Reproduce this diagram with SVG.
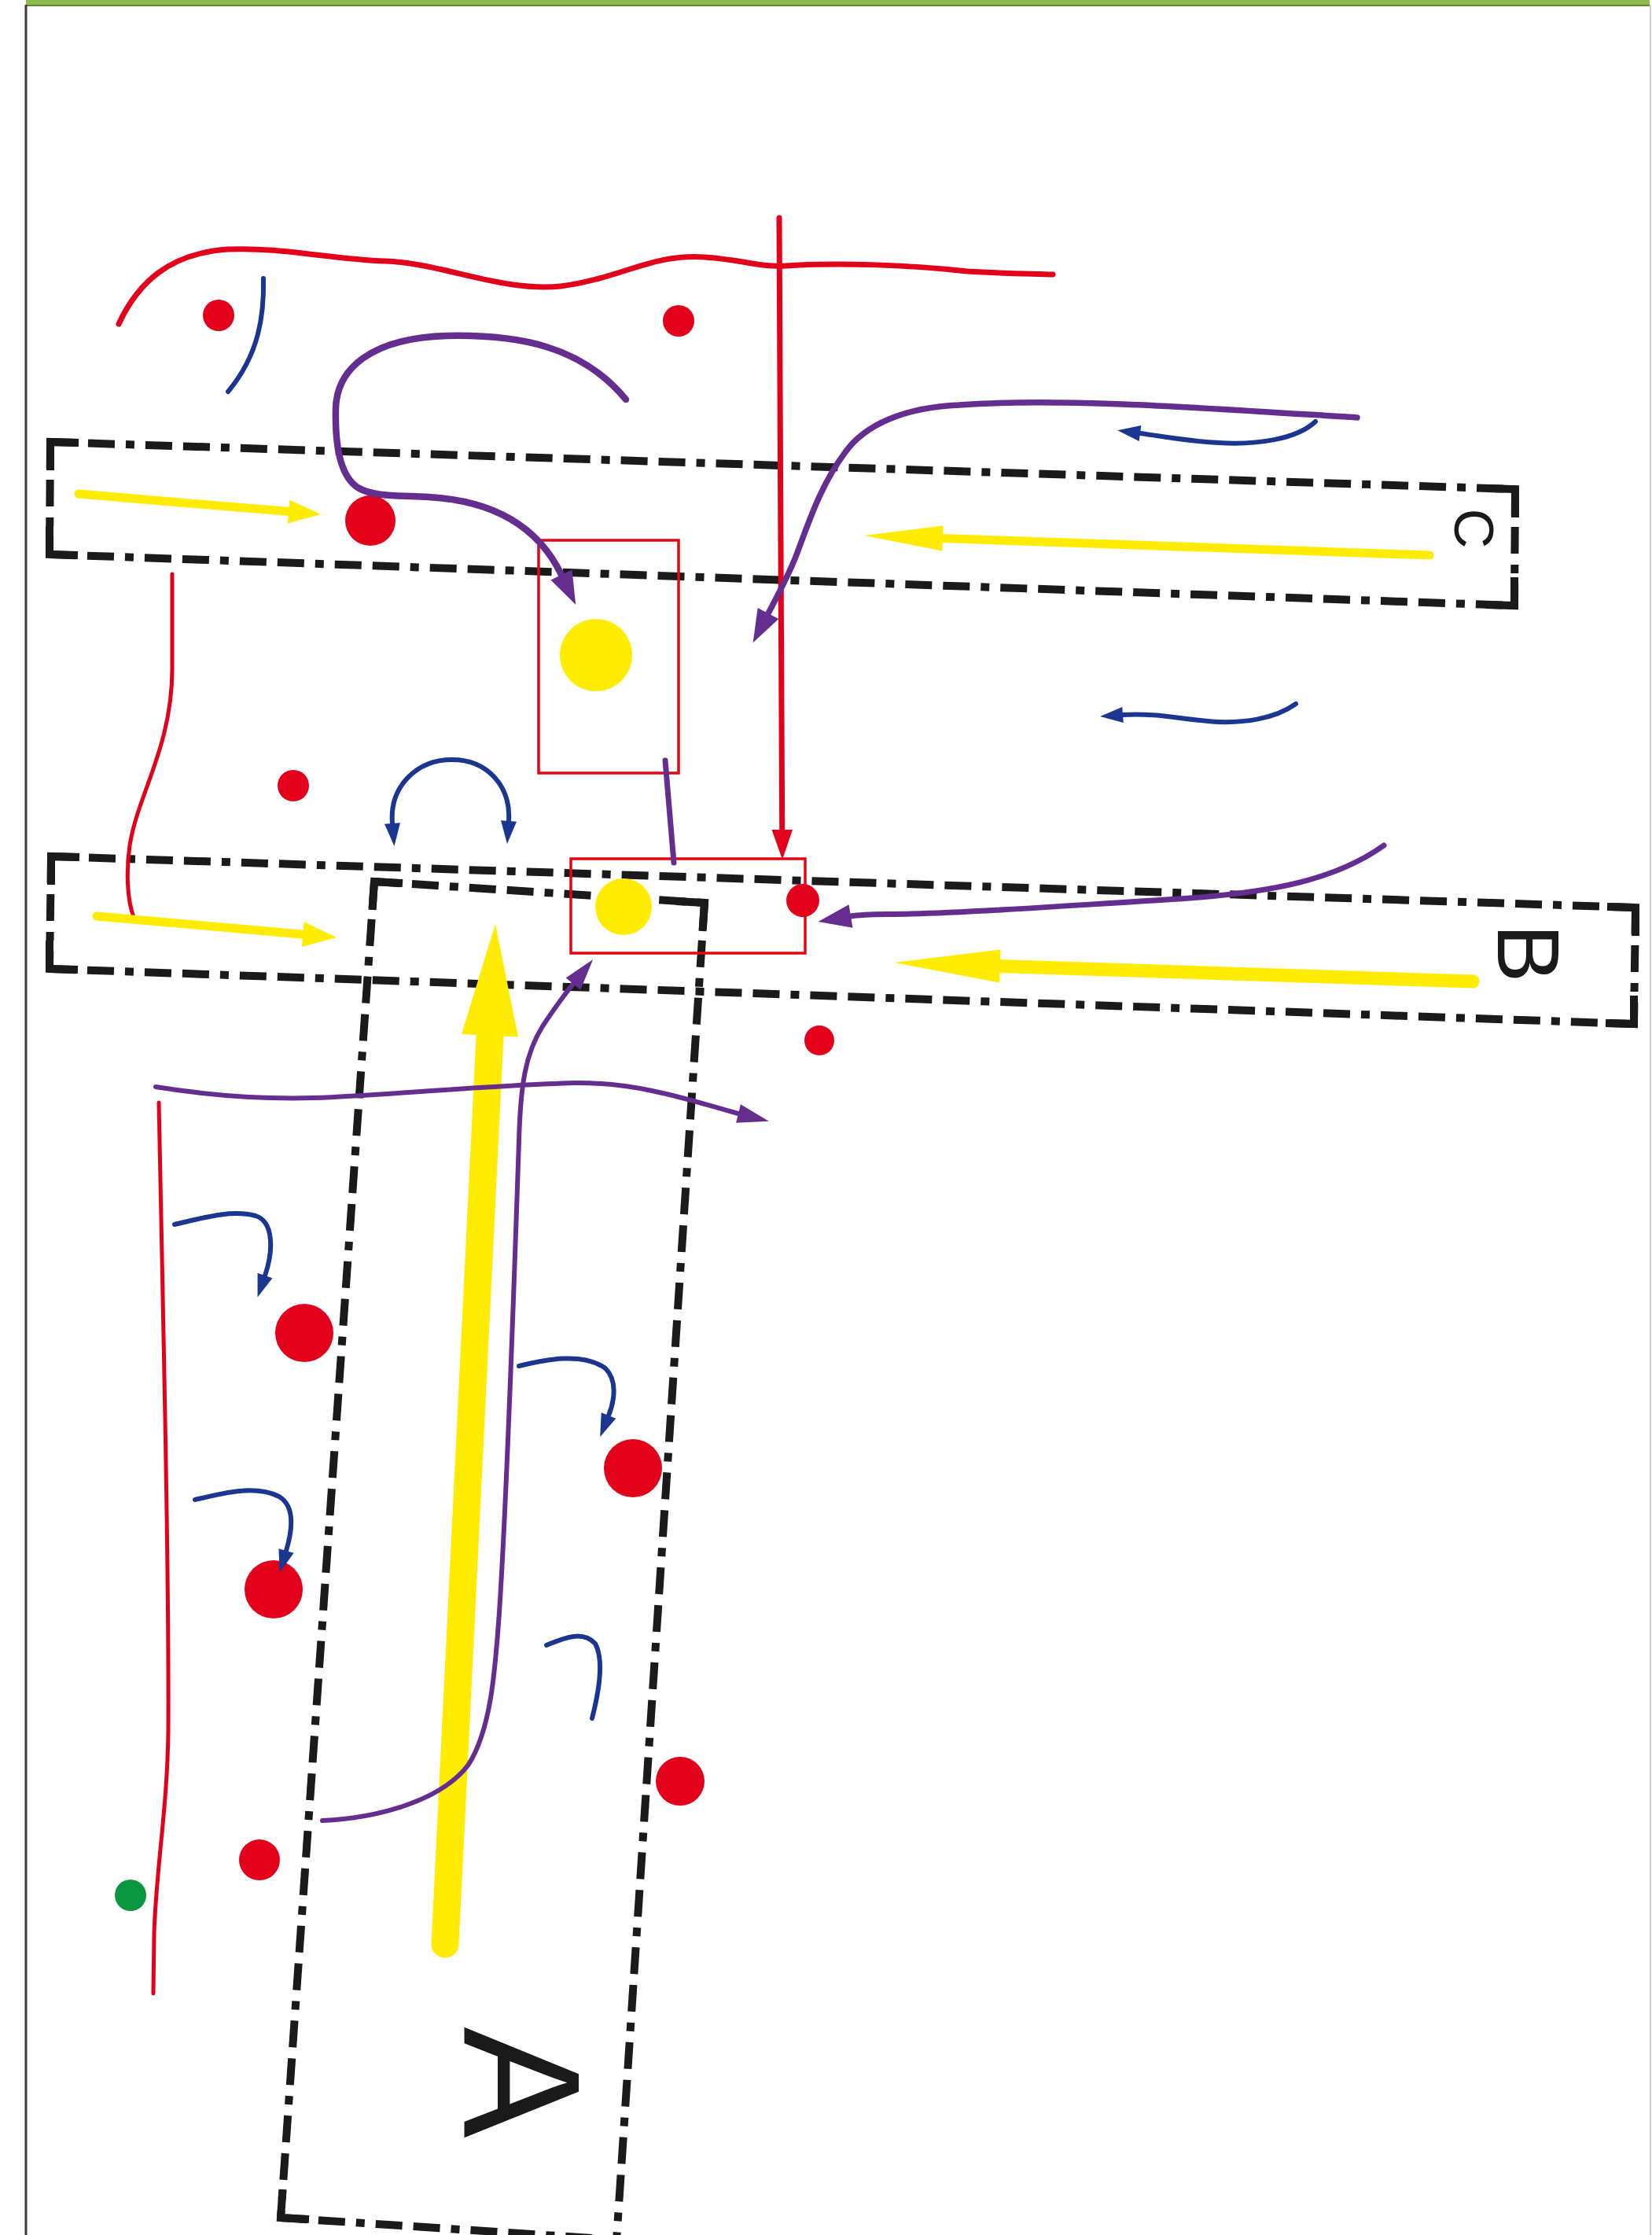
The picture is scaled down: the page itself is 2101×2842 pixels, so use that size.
<svg xmlns="http://www.w3.org/2000/svg" width="2101" height="2842" viewBox="0 0 2101 2842">
<style>
.bx{fill:none;stroke:#1a1a1a;stroke-width:10;stroke-dasharray:34 14 34 14 11 14}
.cn{fill:none;stroke:#1a1a1a;stroke-width:10;stroke-linejoin:miter}
.rr{fill:none;stroke:#e30613;stroke-width:3.5}
.lbl{font-family:"Liberation Sans",Arial,sans-serif;fill:#1a1a1a;text-anchor:middle}
.red{fill:#e2001a}
.yel{fill:#ffec00}
.pl{fill:none;stroke:#662d91;stroke-linecap:round}
.bl{fill:none;stroke:#1b3690;stroke-width:6;stroke-linecap:round}
.rl{fill:none;stroke:#e2001a;stroke-linecap:round}
.yl{fill:none;stroke:#ffec00;stroke-linecap:round}
</style>
<defs>
<marker id="mPB" markerUnits="userSpaceOnUse" markerWidth="60" markerHeight="40" refX="0" refY="0" orient="auto" overflow="visible"><path d="M0,-15 L42,0 L0,15 z" fill="#662d91"/></marker>
<marker id="mPS" markerUnits="userSpaceOnUse" markerWidth="60" markerHeight="40" refX="0" refY="0" orient="auto" overflow="visible"><path d="M0,-12 L40,0 L0,12 z" fill="#662d91"/></marker>
<marker id="mB" markerUnits="userSpaceOnUse" markerWidth="40" markerHeight="30" refX="0" refY="0" orient="auto" overflow="visible"><path d="M0,-10 L29,0 L0,10 z" fill="#1b3690"/></marker>
<marker id="mBs" markerUnits="userSpaceOnUse" markerWidth="40" markerHeight="30" refX="0" refY="0" orient="auto-start-reverse" overflow="visible"><path d="M0,-10 L29,0 L0,10 z" fill="#1b3690"/></marker>
</defs>
<rect width="2101" height="2842" fill="#ffffff"/>
<g id="frame">
<rect x="33" y="0" width="2065" height="7" fill="#8dbb4c"/>
<rect x="33" y="6" width="2065" height="2" fill="#5e8c2b"/>
<line x1="33" y1="6" x2="33" y2="2842" stroke="#3a3a3a" stroke-width="3"/>
<line x1="2099" y1="6" x2="2099" y2="2842" stroke="#d0d0d0" stroke-width="2"/>
</g>
<g id="box-C">
<path class="bx" d="M64,562 L1927,622 M1927,622 L1926,770 M63,705 L1926,770 M64,562 L63,705"/>
<path class="cn" d="M100,563 L64,562 L64,598 M1891,621 L1927,622 L1927,658 M1926,734 L1926,770 L1890,769 M63,669 L63,705 L99,706"/>
<text class="lbl" font-size="70" transform="translate(1875,672) rotate(90)" x="0" y="25">C</text>
</g>
<g id="box-B">
<path class="bx" d="M65,1089 L2080,1154 M2080,1154 L2078,1302 M63,1232 L2078,1302 M65,1089 L63,1232"/>
<path class="cn" d="M101,1090 L65,1089 L65,1125 M2044,1153 L2080,1154 L2080,1190 M2078,1266 L2078,1302 L2042,1301 M63,1196 L63,1232 L99,1233"/>
<text class="lbl" font-size="112" transform="translate(1945,1212) rotate(90)" x="0" y="40">B</text>
</g>
<g id="box-A">
<path class="bx" d="M476,1121 L896,1148 M896,1148 L784,2850 M357,2820 L784,2848 M476,1121 L357,2820"/>
<path class="cn" d="M512,1123 L476,1121 L473.5,1157 M860,1146 L896,1148 L893.5,1184 M359.5,2784 L357,2820 L393,2822"/>
<text class="lbl" font-size="212" transform="translate(666,2648) rotate(90)" x="0" y="76">A</text>
</g>
<g id="zone-upper">
<rect class="rr" x="685" y="687" width="178" height="296"/>
<circle class="yel" cx="758" cy="833" r="46"/>
</g>
<g id="zone-lower">
<rect class="rr" x="726" y="1092" width="298" height="120"/>
<circle class="yel" cx="793" cy="1153" r="36"/>
</g>
<g id="players">
<circle id="p1" class="red" cx="278" cy="401" r="20"/>
<circle id="p2" class="red" cx="863" cy="408" r="20"/>
<circle id="p3" class="red" cx="471" cy="662" r="32"/>
<circle id="p4" class="red" cx="373" cy="999" r="20"/>
<circle id="p5" class="red" cx="1021" cy="1145" r="21"/>
<circle id="p6" class="red" cx="1042" cy="1323" r="19"/>
<circle id="p7" class="red" cx="387" cy="1695" r="37"/>
<circle id="p8" class="red" cx="805" cy="1867" r="37"/>
<circle id="p9" class="red" cx="348" cy="2021" r="37"/>
<circle id="p10" class="red" cx="865" cy="2265" r="31"/>
<circle id="p11" class="red" cx="330" cy="2365" r="26"/>
<circle id="p12" cx="166" cy="2410" r="20" fill="#0b9640"/>
</g>
<g id="connectors">
<path class="rl" stroke-width="7" d="M151,412 C175,360 215,322 290,317 C360,314 420,330 490,332 C560,334 640,372 713,364 C790,354 830,322 896,327 C950,331 965,340 1000,338 C1060,334 1150,336 1230,345 C1280,348 1320,348 1339,349"/>
<line class="rl" stroke-width="7" x1="991" y1="277" x2="994.7" y2="1056"/>
<polygon class="red" points="981.5,1055 1008,1055 995,1093"/>
<path class="rl" stroke-width="5" d="M219,730 L219,850 C219,950 175,1010 165,1075 C160,1110 162,1145 170,1166"/>
<path class="rl" stroke-width="5" d="M202,1402 C208,1700 215,2000 214,2200 C213,2300 198,2380 196,2460 L195,2535"/>
<line class="yl" stroke-width="11" x1="100" y1="628" x2="368" y2="650.6"/>
<polygon class="yel" points="365.8,665.5 368.4,635.7 408,654"/>
<line class="yl" stroke-width="11" x1="1818" y1="706" x2="1198" y2="684.5"/>
<polygon class="yel" points="1199.5,668.5 1198.3,700.5 1099,681"/>
<line class="yl" stroke-width="11" x1="123" y1="1165" x2="386" y2="1188.2"/>
<polygon class="yel" points="383.8,1204.1 386.6,1172.3 428,1192"/>
<line class="yl" stroke-width="17" x1="1873" y1="1248" x2="1271" y2="1228.4"/>
<polygon class="yel" points="1272.6,1207.4 1271.2,1249.4 1137,1224"/>
<line class="yl" stroke-width="35" x1="566" y1="2472" x2="623" y2="1318"/>
<polygon class="yel" points="659,1318.6 587,1315 630,1175"/>
<path class="pl" stroke-width="8.5" marker-end="url(#mPB)" d="M796,508 C740,440 660,425 568,427 C470,430 428,470 427,520 C426,565 432,605 455,620 C475,632 505,630 545,632 C615,636 680,660 714,731"/>
<path class="pl" stroke-width="7.5" marker-end="url(#mPB)" d="M1726,531 C1550,520 1350,505 1220,515 C1150,518 1100,540 1075,575 C1045,615 1030,660 1015,700 C1005,728 990,755 977,780"/>
<path class="pl" stroke-width="7" d="M846,967 L857,1097"/>
<path class="pl" stroke-width="7" marker-end="url(#mPB)" d="M1760,1075 C1700,1118 1620,1135 1500,1143 C1380,1150 1250,1160 1160,1162 C1120,1163 1100,1162 1082,1165"/>
<path class="pl" stroke-width="6" marker-end="url(#mPS)" d="M410,2315 C480,2312 560,2290 595,2245 C625,2200 630,2120 635,2050 C645,1900 655,1600 660,1450 C662,1380 668,1340 690,1305 C700,1290 712,1272 729,1251"/>
<path class="pl" stroke-width="6" marker-end="url(#mPS)" d="M198,1382 C260,1392 330,1398 400,1396 C500,1392 620,1380 731,1377 C820,1376 895,1405 939,1416"/>
<path class="bl" stroke-width="5" d="M335,354 C336,400 330,450 290,498"/>
<path class="bl" marker-end="url(#mB)" d="M1673,536 C1650,558 1600,566 1550,563 C1510,561 1480,555 1450,551"/>
<path class="bl" marker-end="url(#mB)" d="M1648,895 C1620,915 1580,919 1550,918 C1510,916 1470,906 1428,909"/>
<path class="bl" marker-start="url(#mBs)" marker-end="url(#mB)" d="M499,1047 C495,1000 530,966 575,966 C620,966 650,1000 647,1044"/>
<path class="bl" marker-end="url(#mB)" d="M222,1557 C260,1548 295,1538 325,1546 C348,1553 348,1590 337,1622"/>
<path class="bl" marker-end="url(#mB)" d="M248,1907 C285,1898 325,1888 355,1903 C375,1915 372,1945 364,1972"/>
<path class="bl" marker-end="url(#mB)" d="M660,1737 C690,1730 740,1718 770,1740 C785,1755 782,1780 774,1800"/>
<path class="bl" d="M695,2092 C715,2084 740,2072 757,2090 C768,2110 762,2150 753,2185"/>
</g>
</svg>
